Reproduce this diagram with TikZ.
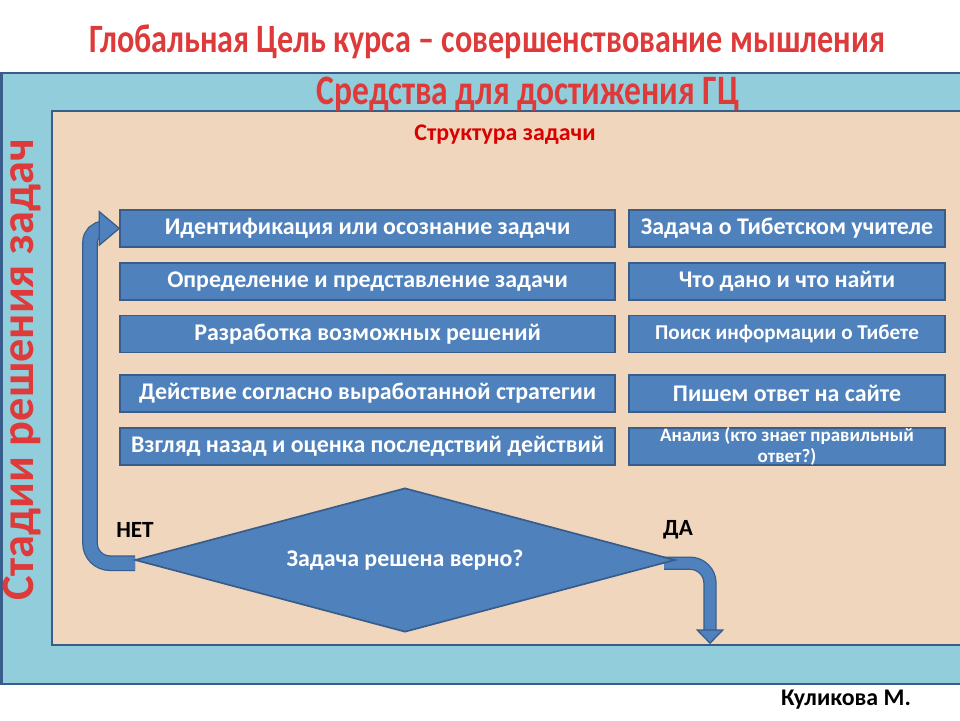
\documentclass[tikz,border=0pt]{standalone}
\usepackage{fontspec}
\setmainfont{Carlito}
\newfontfamily\narrowfont[FakeStretch=0.8]{Carlito}
\usetikzlibrary{arrows.meta,positioning,shapes.geometric,calc}
\definecolor{boxblue}{RGB}{79,129,189}
\definecolor{edgeblue}{RGB}{56,93,138}
\definecolor{frameblue}{RGB}{146,205,220}
\definecolor{peach}{RGB}{240,214,188}
\definecolor{headred}{RGB}{222,58,58}

\begin{document}
\begin{tikzpicture}[
  stage/.style={draw=edgeblue,fill=boxblue,line width=1.2pt,minimum width=12.375cm,
    minimum height=0.925cm,inner sep=0pt,text=white,align=center,
    font=\bfseries\fontsize{17}{19}\selectfont},
  example/.style={stage,minimum width=7.9cm},
  heading/.style={text=headred,font=\narrowfont\bfseries\fontsize{29}{32}\selectfont},
  answer/.style={font=\bfseries\fontsize{16.5}{18}\selectfont},
  loop/.style={draw=edgeblue,line width=0.9pt,double=boxblue,rounded corners=0.5cm},
  head/.style={draw=edgeblue,fill=boxblue,line width=0.9pt,line join=miter}
  ]
\useasboundingbox (0,0) rectangle (24,-18);

% Frames
\draw[fill=frameblue,draw=edgeblue,line width=2pt] (0.04,-1.825) rectangle (24.3,-17.1);
\draw[fill=peach,draw=edgeblue,line width=2pt] (1.3,-2.775) rectangle (24.3,-16.125);

% Headings
\node[heading,font=\narrowfont\bfseries\fontsize{28.6}{32}\selectfont] (goal) at (12.18,-1.05)
  {Глобальная Цель курса – совершенствование  мышления};
\node[heading,font=\narrowfont\bfseries\fontsize{29.8}{32}\selectfont] (means) at (13.2,-2.35)
  {Средства для достижения ГЦ};
\node[text=red!85!black,font=\bfseries\fontsize{17}{19}\selectfont] (struct)
  at (12.625,-3.375) {Структура задачи};
\node[heading,rotate=90,font=\bfseries\fontsize{33}{36}\selectfont] (stages)
  at (0.55,-9.25) {Стадии решения задач};

% Stages of solving (left column)
\node[stage] (s1) at (9.19,-5.71)  {Идентификация или осознание задачи};
\node[stage] (s2) at (9.19,-7.04)  {Определение и представление задачи};
\node[stage] (s3) at (9.19,-8.35)  {Разработка возможных решений};
\node[stage] (s4) at (9.19,-9.84)  {Действие согласно выработанной стратегии};
\node[stage] (s5) at (9.19,-11.16) {Взгляд назад и оценка последствий действий};

% Example task (right column)
\node[example] (e1) at (19.675,-5.71)  {Задача о Тибетском учителе};
\node[example] (e2) at (19.675,-7.04)  {Что дано и что найти};
\node[example,font=\bfseries\fontsize{15}{17}\selectfont] (e3) at (19.675,-8.35)
  {Поиск информации  о Тибете};
\node[example] (e4) at (19.675,-9.84)  {Пишем ответ на сайте};
\node[example,font=\bfseries\fontsize{13.5}{14.5}\selectfont] (e5) at (19.675,-11.16)
  {Анализ  (кто знает правильный\\ответ?)};

% Loop arrows
\coordinate (noend) at ($(s1.west)+(-0.45,0)$);
\draw[loop,double distance=0.33cm] (3.38,-14.08) -- (2.25,-14.08)
  [rounded corners=0.35cm] -- (2.25,-5.71) -- (noend);
\draw[head] ($(noend)+(-0.05,0.42)$) -- (s1.west) -- ($(noend)+(-0.05,-0.42)$) -- cycle;

\coordinate (yesend) at (17.75,-15.75);
\draw[loop,double distance=0.27cm] (16.6,-14.08) -- (17.75,-14.08) -- (yesend);
\draw[head] ($(yesend)+(-0.32,0)$) -- ($(yesend)+(0,-0.33)$) -- ($(yesend)+(0.32,0)$) -- cycle;

% Decision
\node[diamond,aspect=3.75,draw=edgeblue,fill=boxblue,line width=1.2pt,minimum width=13.5cm,
  minimum height=3.6cm,inner sep=0pt,text=white,font=\bfseries\fontsize{17}{19}\selectfont]
  (check) at (10.125,-14.0) {Задача решена верно?};

\node[answer] (no)  at (3.375,-13.25) {НЕТ};
\node[answer] (yes) at (16.95,-13.25) {ДА};

% Author
\node[font=\bfseries\fontsize{17}{19}\selectfont] (author) at (21.15,-17.5) {Куликова М.};

\end{tikzpicture}
\end{document}
